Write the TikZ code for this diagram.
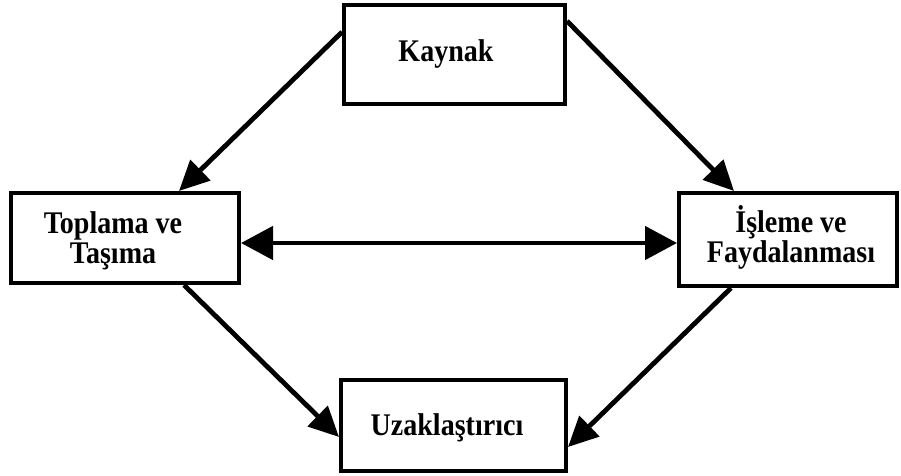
\documentclass[tikz,border=0pt]{standalone}
\usepackage{fontspec}
\setmainfont{Liberation Serif}
\newfontfamily\boxfont[FakeStretch=0.89]{Liberation Serif}
\usetikzlibrary{arrows.meta,calc}

\tikzset{
  stage/.style={draw=black, line width=4pt, rectangle, inner sep=0pt},
  caption/.style={font=\boxfont\bfseries\fontsize{31.5pt}{30pt}\selectfont,
                  align=center, inner sep=0pt, anchor=base},
  flow/.style={line width=4.8pt, -{Triangle[length=30pt,width=28pt]}},
  bothways/.style={line width=4.8pt,
                   {Triangle[length=32pt,width=33pt]}-{Triangle[length=32pt,width=33pt]}}
}

\begin{document}
\begin{tikzpicture}[x=1pt,y=1pt]
  \useasboundingbox (0,0) rectangle (901,475);

  % the four stages
  \node[stage, minimum width=221pt, minimum height=99pt] (kaynak)  at (454.5,420.5) {};
  \node[stage, minimum width=228pt, minimum height=90pt] (toplama) at (125,237) {};
  \node[stage, minimum width=218pt, minimum height=93pt] (isleme)  at (788,235.5) {};
  \node[stage, minimum width=225pt, minimum height=91pt] (uzak)    at (453.5,49.5) {};

  % their labels (base anchor sits on the last line)
  \node[caption] (kaynakT)  at (446,413) {Kaynak};
  \node[caption] (toplamaT) at (113,211.5) {Toplama ve\\Taşıma};
  \node[caption] (islemeT)  at (791,213) {İşleme ve\\Faydalanması};
  \node[caption] (uzakT)    at (447,40)  {Uzaklaştırıcı};

  % flows between the stages
  \draw[flow] ([yshift=-29pt]kaynak.north west) -- ([xshift=170pt]toplama.north west);
  \draw[flow] ([yshift=-18pt]kaynak.north east) -- ([xshift=57pt]isleme.north west);
  \draw[flow] ([xshift=175pt]toplama.south west) -- ([yshift=-59pt]uzak.north west);
  \draw[flow] ([xshift=54pt]isleme.south west) -- ([yshift=-69pt]uzak.north east);
  \draw[bothways] ([yshift=-5pt]toplama.east) -- ([yshift=-5pt]toplama.east -| isleme.west);
\end{tikzpicture}
\end{document}
